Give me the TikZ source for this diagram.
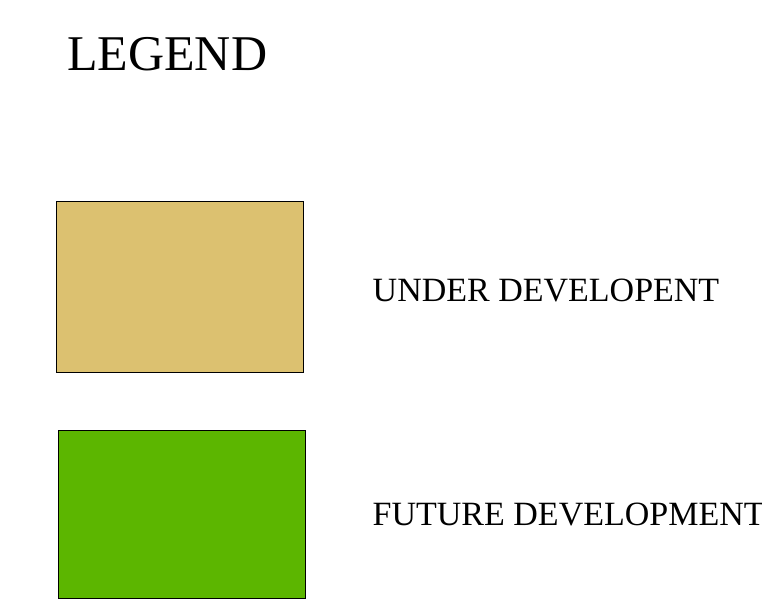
\documentclass[tikz,border=0pt]{standalone}
\usepackage{fontspec}
\setmainfont{Liberation Serif}
\definecolor{tanfill}{RGB}{220,193,112}
\definecolor{greenfill}{RGB}{92,182,0}
\begin{document}
\begin{tikzpicture}[x=1pt,y=-1pt,
  swatch/.style={draw=black,line width=1pt,inner sep=0pt,minimum width=247pt},
  label/.style={anchor=base west,inner sep=0pt,font=\fontsize{34}{40}\selectfont}]
\useasboundingbox (0,0) rectangle (762,601);
\fill[white] (0,0) rectangle (762,601);
\node[anchor=base west,inner sep=0pt,font=\fontsize{50}{60}\selectfont] (title) at (67,71) {LEGEND};
\node[swatch,fill=tanfill,minimum height=170pt] (under) at (179.5,287) {};
\node[swatch,fill=greenfill,minimum height=168pt] (future) at (181.5,514) {};
\node[label] (underlbl) at (372.5,301.5) {UNDER DEVELOPENT};
\node[label] (futurelbl) at (372.5,525.5) {FUTURE DEVELOPMENT};
\end{tikzpicture}
\end{document}
